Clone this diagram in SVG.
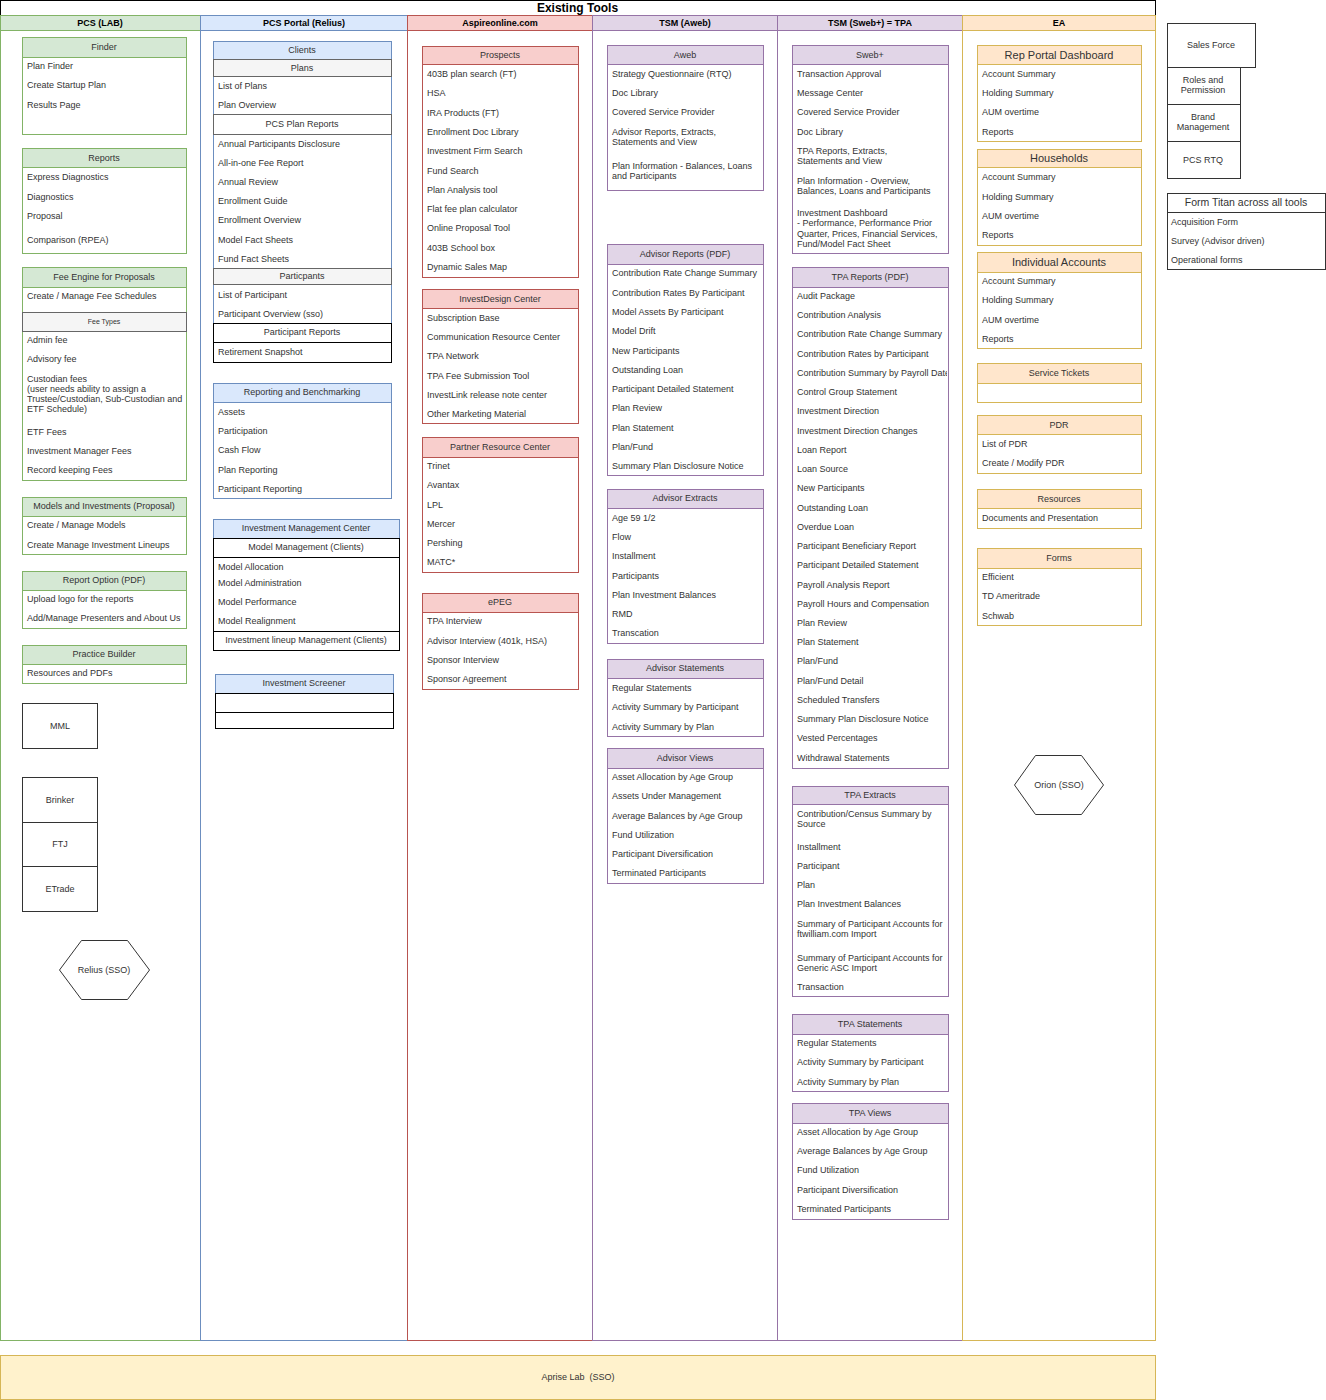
<svg xmlns="http://www.w3.org/2000/svg" width="1326" height="1400" viewBox="0 0 1326 1400">
<style>
text{font-family:"Liberation Sans",Arial,Helvetica,sans-serif;font-size:9px;fill:#333}
.c{text-anchor:middle}
.b{font-weight:bold;fill:#000}
.big{font-size:11px}
.ttl{font-size:12px;font-weight:bold;fill:#000}
.sm{font-size:7px}
rect,polygon{stroke-width:1}
.sg{stroke:#82b366;fill:#fff}.hg{stroke:#82b366;fill:#d5e8d4}
.sb{stroke:#6c8ebf;fill:#fff}.hb{stroke:#6c8ebf;fill:#dae8fc}
.sr{stroke:#b85450;fill:#fff}.hr{stroke:#b85450;fill:#f8cecc}
.sp{stroke:#9673a6;fill:#fff}.hp{stroke:#9673a6;fill:#e1d5e7}
.so{stroke:#d6b656;fill:#fff}.ho{stroke:#d6b656;fill:#ffe6cc}
.sk{stroke:#000;fill:#fff}
.gy{stroke:#666;fill:#f5f5f5}
.wg{stroke:#666;fill:#fff}
.sh{stroke:#333;fill:#fff}
</style>
<defs>
<clipPath id="clipTpa"><rect x="792" y="267" width="155" height="501"/></clipPath>
</defs>

<g id="title">
<rect x="0.5" y="0.5" width="1155" height="15" class="sk"/>
<text x="577.5" y="12" class="c ttl">Existing Tools</text>
</g>

<g id="lanes">
<rect x="0.5" y="15.5" width="200" height="1325" class="sg"/>
<rect x="0.5" y="15.5" width="200" height="15" class="hg"/>
<text x="100" y="26" class="c b">PCS (LAB)</text>
<rect x="200.5" y="15.5" width="207" height="1325" class="sb"/>
<rect x="200.5" y="15.5" width="207" height="15" class="hb"/>
<text x="304" y="26" class="c b">PCS Portal (Relius)</text>
<rect x="407.5" y="15.5" width="185" height="1325" class="sr"/>
<rect x="407.5" y="15.5" width="185" height="15" class="hr"/>
<text x="500" y="26" class="c b">Aspireonline.com</text>
<rect x="592.5" y="15.5" width="185" height="1325" class="sp"/>
<rect x="592.5" y="15.5" width="185" height="15" class="hp"/>
<text x="685" y="26" class="c b">TSM (Aweb)</text>
<rect x="777.5" y="15.5" width="185" height="1325" class="sp"/>
<rect x="777.5" y="15.5" width="185" height="15" class="hp"/>
<text x="870" y="26" class="c b">TSM (Sweb+) = TPA</text>
<rect x="962.5" y="15.5" width="193" height="1325" class="so"/>
<rect x="962.5" y="15.5" width="193" height="15" class="ho"/>
<text x="1059" y="26" class="c b">EA</text>
</g>

<!-- PCS (LAB) -->
<g id="finder">
<rect x="22.5" y="37.5" width="164" height="97" class="sg"/>
<rect x="22.5" y="37.5" width="164" height="20" class="hg"/>
<text x="104" y="50" class="c">Finder</text>
<text x="27" y="69">Plan Finder</text>
<text x="27" y="88">Create Startup Plan</text>
<text x="27" y="108">Results Page</text>
</g>
<g id="reports">
<rect x="22.5" y="148.5" width="164" height="105" class="sg"/>
<rect x="22.5" y="148.5" width="164" height="19" class="hg"/>
<text x="104" y="161" class="c">Reports</text>
<text x="27" y="180">Express Diagnostics</text>
<text x="27" y="200">Diagnostics</text>
<text x="27" y="219">Proposal</text>
<text x="27" y="243">Comparison (RPEA)</text>
</g>
<g id="fee-engine">
<rect x="22.5" y="267.5" width="164" height="213" class="sg"/>
<rect x="22.5" y="267.5" width="164" height="20" class="hg"/>
<text x="104" y="280" class="c">Fee Engine for Proposals</text>
<text x="27" y="299">Create / Manage Fee Schedules</text>
<rect x="22.5" y="312.5" width="164" height="19" class="gy"/>
<text x="104" y="324" class="c sm">Fee Types</text>
<text x="27" y="343">Admin fee</text>
<text x="27" y="362">Advisory fee</text>
<text x="27" y="382">Custodian fees</text>
<text x="27" y="392">(user needs ability to assign a</text>
<text x="27" y="402">Trustee/Custodian, Sub-Custodian and</text>
<text x="27" y="412">ETF Schedule)</text>
<text x="27" y="435">ETF Fees</text>
<text x="27" y="454">Investment Manager Fees</text>
<text x="27" y="473">Record keeping Fees</text>
</g>
<g id="models-investments">
<rect x="22.5" y="497.5" width="164" height="57" class="sg"/>
<rect x="22.5" y="497.5" width="164" height="19" class="hg"/>
<text x="104" y="509" class="c">Models and Investments (Proposal)</text>
<text x="27" y="528">Create / Manage Models</text>
<text x="27" y="548">Create Manage Investment Lineups</text>
</g>
<g id="report-option">
<rect x="22.5" y="571.5" width="164" height="57" class="sg"/>
<rect x="22.5" y="571.5" width="164" height="19" class="hg"/>
<text x="104" y="583" class="c">Report Option (PDF)</text>
<text x="27" y="602">Upload logo for the reports</text>
<text x="27" y="621">Add/Manage Presenters and About Us</text>
</g>
<g id="practice-builder">
<rect x="22.5" y="645.5" width="164" height="38" class="sg"/>
<rect x="22.5" y="645.5" width="164" height="19" class="hg"/>
<text x="104" y="657" class="c">Practice Builder</text>
<text x="27" y="676">Resources and PDFs</text>
</g>
<g id="mml">
<rect x="22.5" y="703.5" width="75" height="45" class="sh"/>
<text x="60" y="729" class="c">MML</text>
</g>
<g id="brinker">
<rect x="22.5" y="777.5" width="75" height="45" class="sh"/>
<text x="60" y="803" class="c">Brinker</text>
</g>
<g id="ftj">
<rect x="22.5" y="822.5" width="75" height="44" class="sh"/>
<text x="60" y="847" class="c">FTJ</text>
</g>
<g id="etrade">
<rect x="22.5" y="866.5" width="75" height="45" class="sh"/>
<text x="60" y="892" class="c">ETrade</text>
</g>
<g id="relius-sso">
<polygon points="59.5,970 81.5,940.5 127.5,940.5 149.5,970 127.5,999.5 81.5,999.5" class="sh"/>
<text x="104" y="973" class="c">Relius (SSO)</text>
</g>

<!-- PCS Portal -->
<g id="clients">
<rect x="213.5" y="41.5" width="178" height="282" class="sb"/>
<rect x="213.5" y="41.5" width="178" height="18" class="hb"/>
<text x="302" y="53" class="c">Clients</text>
<rect x="213.5" y="59.5" width="178" height="17" class="gy"/>
<text x="302" y="71" class="c">Plans</text>
<text x="218" y="89">List of Plans</text>
<text x="218" y="108">Plan Overview</text>
<rect x="213.5" y="114.5" width="178" height="20" class="wg"/>
<text x="302" y="127" class="c">PCS Plan Reports</text>
<text x="218" y="147">Annual Participants Disclosure</text>
<text x="218" y="166">All-in-one Fee Report</text>
<text x="218" y="185">Annual Review</text>
<text x="218" y="204">Enrollment Guide</text>
<text x="218" y="223">Enrollment Overview</text>
<text x="218" y="243">Model Fact Sheets</text>
<text x="218" y="262">Fund Fact Sheets</text>
<rect x="213.5" y="268.5" width="178" height="16" class="gy"/>
<text x="302" y="279" class="c">Particpants</text>
<text x="218" y="298">List of Participant</text>
<text x="218" y="317">Participant Overview (sso)</text>
<rect x="213.5" y="323.5" width="178" height="19" class="sk"/>
<text x="302" y="335" class="c">Participant Reports</text>
<rect x="213.5" y="342.5" width="178" height="20" class="sk"/>
<text x="218" y="355">Retirement Snapshot</text>
</g>
<g id="reporting-benchmarking">
<rect x="213.5" y="383.5" width="178" height="115" class="sb"/>
<rect x="213.5" y="383.5" width="178" height="19" class="hb"/>
<text x="302" y="395" class="c">Reporting and Benchmarking</text>
<text x="218" y="415">Assets</text>
<text x="218" y="434">Participation</text>
<text x="218" y="453">Cash Flow</text>
<text x="218" y="473">Plan Reporting</text>
<text x="218" y="492">Participant Reporting</text>
</g>
<g id="investment-management-center">
<rect x="213.5" y="519.5" width="186" height="19" class="hb"/>
<text x="306" y="531" class="c">Investment Management Center</text>
<rect x="213.5" y="538.5" width="186" height="19" class="sk"/>
<text x="306" y="550" class="c">Model Management (Clients)</text>
<rect x="213.5" y="557.5" width="186" height="74" class="sk"/>
<text x="218" y="570">Model Allocation</text>
<text x="218" y="586">Model Administration</text>
<text x="218" y="605">Model Performance</text>
<text x="218" y="624">Model Realignment</text>
<rect x="213.5" y="631.5" width="186" height="19" class="sk"/>
<text x="306" y="643" class="c">Investment lineup Management (Clients)</text>
</g>
<g id="investment-screener">
<rect x="215.5" y="674.5" width="178" height="19" class="hb"/>
<text x="304" y="686" class="c">Investment Screener</text>
<rect x="215.5" y="693.5" width="178" height="19" class="sk"/>
<rect x="215.5" y="712.5" width="178" height="16" class="sk"/>
</g>

<!-- Aspireonline.com -->
<g id="prospects">
<rect x="422.5" y="46.5" width="156" height="231" class="sr"/>
<rect x="422.5" y="46.5" width="156" height="18" class="hr"/>
<text x="500" y="58" class="c">Prospects</text>
<text x="427" y="77">403B plan search (FT)</text>
<text x="427" y="96">HSA</text>
<text x="427" y="116">IRA Products (FT)</text>
<text x="427" y="135">Enrollment Doc Library</text>
<text x="427" y="154">Investment Firm Search</text>
<text x="427" y="174">Fund Search</text>
<text x="427" y="193">Plan Analysis tool</text>
<text x="427" y="212">Flat fee plan calculator</text>
<text x="427" y="231">Online Proposal Tool</text>
<text x="427" y="251">403B School box</text>
<text x="427" y="270">Dynamic Sales Map</text>
</g>
<g id="investdesign-center">
<rect x="422.5" y="289.5" width="156" height="134" class="sr"/>
<rect x="422.5" y="289.5" width="156" height="19" class="hr"/>
<text x="500" y="302" class="c">InvestDesign Center</text>
<text x="427" y="321">Subscription Base</text>
<text x="427" y="340">Communication Resource Center</text>
<text x="427" y="359">TPA Network</text>
<text x="427" y="379">TPA Fee Submission Tool</text>
<text x="427" y="398">InvestLink release note center</text>
<text x="427" y="417">Other Marketing Material</text>
</g>
<g id="partner-resource-center">
<rect x="422.5" y="437.5" width="156" height="135" class="sr"/>
<rect x="422.5" y="437.5" width="156" height="20" class="hr"/>
<text x="500" y="450" class="c">Partner Resource Center</text>
<text x="427" y="469">Trinet</text>
<text x="427" y="488">Avantax</text>
<text x="427" y="508">LPL</text>
<text x="427" y="527">Mercer</text>
<text x="427" y="546">Pershing</text>
<text x="427" y="565">MATC*</text>
</g>
<g id="epeg">
<rect x="422.5" y="593.5" width="156" height="96" class="sr"/>
<rect x="422.5" y="593.5" width="156" height="19" class="hr"/>
<text x="500" y="605" class="c">ePEG</text>
<text x="427" y="624">TPA Interview</text>
<text x="427" y="644">Advisor Interview (401k, HSA)</text>
<text x="427" y="663">Sponsor Interview</text>
<text x="427" y="682">Sponsor Agreement</text>
</g>

<!-- TSM (Aweb) -->
<g id="aweb">
<rect x="607.5" y="45.5" width="156" height="145" class="sp"/>
<rect x="607.5" y="45.5" width="156" height="19" class="hp"/>
<text x="685" y="58" class="c">Aweb</text>
<text x="612" y="77">Strategy Questionnaire (RTQ)</text>
<text x="612" y="96">Doc Library</text>
<text x="612" y="115">Covered Service Provider</text>
<text x="612" y="135">Advisor Reports, Extracts,</text>
<text x="612" y="145">Statements and View</text>
<text x="612" y="169">Plan Information - Balances, Loans</text>
<text x="612" y="179">and Participants</text>
</g>
<g id="advisor-reports">
<rect x="607.5" y="244.5" width="156" height="231" class="sp"/>
<rect x="607.5" y="244.5" width="156" height="20" class="hp"/>
<text x="685" y="257" class="c">Advisor Reports (PDF)</text>
<text x="612" y="276">Contribution Rate Change Summary</text>
<text x="612" y="296">Contribution Rates By Participant</text>
<text x="612" y="315">Model Assets By Participant</text>
<text x="612" y="334">Model Drift</text>
<text x="612" y="354">New Participants</text>
<text x="612" y="373">Outstanding Loan</text>
<text x="612" y="392">Participant Detailed Statement</text>
<text x="612" y="411">Plan Review</text>
<text x="612" y="431">Plan Statement</text>
<text x="612" y="450">Plan/Fund</text>
<text x="612" y="469">Summary Plan Disclosure Notice</text>
</g>
<g id="advisor-extracts">
<rect x="607.5" y="489.5" width="156" height="154" class="sp"/>
<rect x="607.5" y="489.5" width="156" height="19" class="hp"/>
<text x="685" y="501" class="c">Advisor Extracts</text>
<text x="612" y="521">Age 59 1/2</text>
<text x="612" y="540">Flow</text>
<text x="612" y="559">Installment</text>
<text x="612" y="579">Participants</text>
<text x="612" y="598">Plan Investment Balances</text>
<text x="612" y="617">RMD</text>
<text x="612" y="636">Transcation</text>
</g>
<g id="advisor-statements">
<rect x="607.5" y="659.5" width="156" height="77" class="sp"/>
<rect x="607.5" y="659.5" width="156" height="19" class="hp"/>
<text x="685" y="671" class="c">Advisor Statements</text>
<text x="612" y="691">Regular Statements</text>
<text x="612" y="710">Activity Summary by Participant</text>
<text x="612" y="730">Activity Summary by Plan</text>
</g>
<g id="advisor-views">
<rect x="607.5" y="748.5" width="156" height="135" class="sp"/>
<rect x="607.5" y="748.5" width="156" height="20" class="hp"/>
<text x="685" y="761" class="c">Advisor Views</text>
<text x="612" y="780">Asset Allocation by Age Group</text>
<text x="612" y="799">Assets Under Management</text>
<text x="612" y="819">Average Balances by Age Group</text>
<text x="612" y="838">Fund Utilization</text>
<text x="612" y="857">Participant Diversification</text>
<text x="612" y="876">Terminated Participants</text>
</g>

<!-- TSM (Sweb+) -->
<g id="sweb">
<rect x="792.5" y="45.5" width="156" height="208" class="sp"/>
<rect x="792.5" y="45.5" width="156" height="19" class="hp"/>
<text x="870" y="58" class="c">Sweb+</text>
<text x="797" y="77">Transaction Approval</text>
<text x="797" y="96">Message Center</text>
<text x="797" y="115">Covered Service Provider</text>
<text x="797" y="135">Doc Library</text>
<text x="797" y="154">TPA Reports, Extracts,</text>
<text x="797" y="164">Statements and View</text>
<text x="797" y="184">Plan Information - Overview,</text>
<text x="797" y="194">Balances, Loans and Participants</text>
<text x="797" y="216">Investment Dashboard</text>
<text x="797" y="226">- Performance, Performance Prior</text>
<text x="797" y="237">Quarter, Prices, Financial Services,</text>
<text x="797" y="247">Fund/Model Fact Sheet</text>
</g>
<g id="tpa-reports">
<rect x="792.5" y="267.5" width="156" height="501" class="sp"/>
<rect x="792.5" y="267.5" width="156" height="20" class="hp"/>
<text x="870" y="280" class="c">TPA Reports (PDF)</text>
<g clip-path="url(#clipTpa)">
<text x="797" y="299">Audit Package</text>
<text x="797" y="318">Contribution Analysis</text>
<text x="797" y="337">Contribution Rate Change Summary</text>
<text x="797" y="357">Contribution Rates by Participant</text>
<text x="797" y="376">Contribution Summary by Payroll Date</text>
<text x="797" y="395">Control Group Statement</text>
<text x="797" y="414">Investment Direction</text>
<text x="797" y="434">Investment Direction Changes</text>
<text x="797" y="453">Loan Report</text>
<text x="797" y="472">Loan Source</text>
<text x="797" y="491">New Participants</text>
<text x="797" y="511">Outstanding Loan</text>
<text x="797" y="530">Overdue Loan</text>
<text x="797" y="549">Participant Beneficiary Report</text>
<text x="797" y="568">Participant Detailed Statement</text>
<text x="797" y="588">Payroll Analysis Report</text>
<text x="797" y="607">Payroll Hours and Compensation</text>
<text x="797" y="626">Plan Review</text>
<text x="797" y="645">Plan Statement</text>
<text x="797" y="664">Plan/Fund</text>
<text x="797" y="684">Plan/Fund Detail</text>
<text x="797" y="703">Scheduled Transfers</text>
<text x="797" y="722">Summary Plan Disclosure Notice</text>
<text x="797" y="741">Vested Percentages</text>
<text x="797" y="761">Withdrawal Statements</text>
</g>
</g>
<g id="tpa-extracts">
<rect x="792.5" y="786.5" width="156" height="210" class="sp"/>
<rect x="792.5" y="786.5" width="156" height="18" class="hp"/>
<text x="870" y="798" class="c">TPA Extracts</text>
<text x="797" y="817">Contribution/Census Summary by</text>
<text x="797" y="827">Source</text>
<text x="797" y="850">Installment</text>
<text x="797" y="869">Participant</text>
<text x="797" y="888">Plan</text>
<text x="797" y="907">Plan Investment Balances</text>
<text x="797" y="927">Summary of Participant Accounts for</text>
<text x="797" y="937">ftwilliam.com Import</text>
<text x="797" y="961">Summary of Participant Accounts for</text>
<text x="797" y="971">Generic ASC Import</text>
<text x="797" y="990">Transaction</text>
</g>
<g id="tpa-statements">
<rect x="792.5" y="1014.5" width="156" height="77" class="sp"/>
<rect x="792.5" y="1014.5" width="156" height="20" class="hp"/>
<text x="870" y="1027" class="c">TPA Statements</text>
<text x="797" y="1046">Regular Statements</text>
<text x="797" y="1065">Activity Summary by Participant</text>
<text x="797" y="1085">Activity Summary by Plan</text>
</g>
<g id="tpa-views">
<rect x="792.5" y="1103.5" width="156" height="116" class="sp"/>
<rect x="792.5" y="1103.5" width="156" height="20" class="hp"/>
<text x="870" y="1116" class="c">TPA Views</text>
<text x="797" y="1135">Asset Allocation by Age Group</text>
<text x="797" y="1154">Average Balances by Age Group</text>
<text x="797" y="1173">Fund Utilization</text>
<text x="797" y="1193">Participant Diversification</text>
<text x="797" y="1212">Terminated Participants</text>
</g>

<!-- EA -->
<g id="rep-portal-dashboard">
<rect x="977.5" y="45.5" width="164" height="96" class="so"/>
<rect x="977.5" y="45.5" width="164" height="19" class="ho"/>
<text x="1059" y="59" class="c big">Rep Portal Dashboard</text>
<text x="982" y="77">Account Summary</text>
<text x="982" y="96">Holding Summary</text>
<text x="982" y="115">AUM overtime</text>
<text x="982" y="135">Reports</text>
</g>
<g id="households">
<rect x="977.5" y="149.5" width="164" height="96" class="so"/>
<rect x="977.5" y="149.5" width="164" height="18" class="ho"/>
<text x="1059" y="162" class="c big">Households</text>
<text x="982" y="180">Account Summary</text>
<text x="982" y="200">Holding Summary</text>
<text x="982" y="219">AUM overtime</text>
<text x="982" y="238">Reports</text>
</g>
<g id="individual-accounts">
<rect x="977.5" y="252.5" width="164" height="96" class="so"/>
<rect x="977.5" y="252.5" width="164" height="20" class="ho"/>
<text x="1059" y="266" class="c big">Individual Accounts</text>
<text x="982" y="284">Account Summary</text>
<text x="982" y="303">Holding Summary</text>
<text x="982" y="323">AUM overtime</text>
<text x="982" y="342">Reports</text>
</g>
<g id="service-tickets">
<rect x="977.5" y="363.5" width="164" height="39" class="so"/>
<rect x="977.5" y="363.5" width="164" height="20" class="ho"/>
<text x="1059" y="376" class="c">Service Tickets</text>
</g>
<g id="pdr">
<rect x="977.5" y="415.5" width="164" height="58" class="so"/>
<rect x="977.5" y="415.5" width="164" height="19" class="ho"/>
<text x="1059" y="428" class="c">PDR</text>
<text x="982" y="447">List of PDR</text>
<text x="982" y="466">Create / Modify PDR</text>
</g>
<g id="resources">
<rect x="977.5" y="489.5" width="164" height="39" class="so"/>
<rect x="977.5" y="489.5" width="164" height="19" class="ho"/>
<text x="1059" y="502" class="c">Resources</text>
<text x="982" y="521">Documents and Presentation</text>
</g>
<g id="forms">
<rect x="977.5" y="548.5" width="164" height="77" class="so"/>
<rect x="977.5" y="548.5" width="164" height="20" class="ho"/>
<text x="1059" y="561" class="c">Forms</text>
<text x="982" y="580">Efficient</text>
<text x="982" y="599">TD Ameritrade</text>
<text x="982" y="619">Schwab</text>
</g>
<g id="orion-sso">
<polygon points="1014.5,785 1035.5,755.5 1081.5,755.5 1103.5,785 1081.5,814.5 1035.5,814.5" class="sh"/>
<text x="1059" y="788" class="c">Orion (SSO)</text>
</g>

<!-- Right side -->
<g id="sales-force">
<rect x="1167.5" y="23.5" width="88" height="44" class="sh"/>
<text x="1211" y="48" class="c">Sales Force</text>
</g>
<g id="roles-permission">
<rect x="1167.5" y="67.5" width="73" height="37" class="sh"/>
<text x="1203" y="83" class="c">Roles and</text>
<text x="1203" y="93" class="c">Permission</text>
</g>
<g id="brand-management">
<rect x="1167.5" y="104.5" width="73" height="37" class="sh"/>
<text x="1203" y="120" class="c">Brand</text>
<text x="1203" y="130" class="c">Management</text>
</g>
<g id="pcs-rtq">
<rect x="1167.5" y="141.5" width="73" height="37" class="sh"/>
<text x="1203" y="163" class="c">PCS RTQ</text>
</g>
<g id="form-titan">
<rect x="1167.5" y="193.5" width="158" height="76" class="sh"/>
<rect x="1167.5" y="193.5" width="158" height="19" class="sh"/>
<text x="1246" y="206" class="c" style="font-size:10.5px">Form Titan across all tools</text>
<text x="1171" y="225">Acquisition Form</text>
<text x="1171" y="244">Survey (Advisor driven)</text>
<text x="1171" y="263">Operational forms</text>
</g>

<g id="aprise-lab">
<rect x="0.5" y="1355.5" width="1155" height="44" style="fill:#fff2cc;stroke:#d6b656"/>
<text x="578" y="1380" class="c" style="white-space:pre">Aprise Lab  (SSO)</text>
</g>

<g id="connectors"></g>
</svg>
